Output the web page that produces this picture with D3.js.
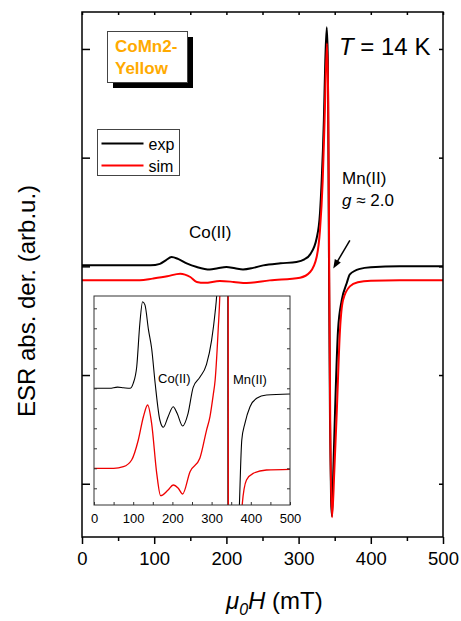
<!DOCTYPE html>
<html>
<head>
<meta charset="utf-8">
<script src="https://cdn.jsdelivr.net/npm/d3@7"></script>
<style>
body { margin: 0; background: #fff; }
svg { display: block; font-family: "Liberation Sans", Arial, sans-serif; }
</style>
</head>
<body>
<div class="chart"></div>
<script>
// main panel, field in mT, signal in arb. units (black = exp, red = sim)
const fieldExp = [0, 60, 95, 108, 116, 124, 133, 145, 159, 177, 188, 200, 212, 223, 237, 251, 275, 297, 308, 316, 325, 329.6, 332, 335, 337, 339, 340.5, 342, 343.5, 345, 346.3, 348, 350.4, 354.6, 359.7, 366.6, 371, 385, 400, 440, 500];
const expMain = [0.009, 0.009, 0.009, 0.023, 0.055, 0.086, 0.069, 0.028, -0.006, -0.030, -0.018, -0.006, -0.018, -0.028, -0.014, 0.009, 0.028, 0.040, 0.064, 0.110, 0.258, 0.488, 0.791, 1.343, 1.895, 2.199, 1.895, 0.147, -1.417, -2.153, -2.300, -1.900, -1.352, -0.589, -0.313, -0.156, -0.074, -0.023, -0.009, 0, 0];

const fieldSim = [0, 80, 98, 118, 136, 150, 159, 170, 191, 210, 228, 260, 302, 316, 325, 329.6, 333.4, 336, 339.3, 341, 342.5, 344, 346.3, 349.5, 352.8, 357.3, 361.5, 371, 382, 400, 440, 500];
const simMain = [-0.129, -0.129, -0.113, -0.092, -0.067, -0.098, -0.144, -0.152, -0.135, -0.143, -0.154, -0.129, -0.104, -0.052, 0.086, 0.331, 0.791, 1.343, 2.052, 1.527, -0.129, -1.600, -2.309, -1.877, -1.352, -0.589, -0.313, -0.184, -0.147, -0.133, -0.129, -0.129];

// inset (zoomed Co(II) region), own arbitrary units
const insetFieldExp = [0, 40, 60, 75, 92, 100, 109, 117, 124, 130, 139, 147, 156, 168, 177, 189, 202, 212, 226, 240, 253, 270, 287, 300, 309, 313, 320, 338, 341.5, 345, 350, 355, 360, 366, 371, 377, 385, 398, 415, 440, 500];
const insetExp = [0, 0, 0.06, 0.03, 0, 0.25, 1.08, 3.25, 4.33, 4.17, 2.92, 2.0, 0.25, -1.585, -1.95, -1.42, -0.92, -1.25, -1.885, -1.25, 0.05, 0.55, 1.2, 2.4, 3.8, 4.665, 8.4, 110, 0, -120, -70, -30, -16, -9, -5.8, -2.585, -1.75, -0.92, -0.5, -0.335, -0.285];

const insetFieldSim = [0, 50, 75, 96, 113, 126, 137, 147, 160, 170, 189, 202, 215, 226, 245, 270, 287, 296, 304, 309, 317, 321, 326, 339, 342.5, 346, 352, 360, 370, 378, 389, 406, 440, 500];
const insetSim = [-4, -4, -3.92, -3.585, -2.585, -1.42, -0.835, -1.75, -4.25, -5.37, -5.085, -4.835, -5.0, -5.285, -4.17, -3.5, -2.1, -1.4, -0.35, 0.4, 3.0, 4.665, 9.4, 110, 0, -120, -60, -20, -8.5, -5.835, -4.585, -4.25, -4.085, -4.05];

const xTicks = [0, 100, 200, 300, 400, 500];
const xMinor = [50, 150, 250, 350, 450];
const yTicks = [-2, -1, 0, 1, 2];
const insetYTicks = [-5, -4, -3, -2, -1, 0, 1, 2, 3, 4];

const W = 461, H = 621;
const margin = {top: 12, right: 18, bottom: 84, left: 82};
const width = W - margin.left - margin.right, height = H - margin.top - margin.bottom;

const svg = d3.select('.chart').append('svg')
    .attr('width', W)
    .attr('height', H);

const g = svg.append('g')
    .attr('transform', `translate(${margin.left},${margin.top})`);

const x = d3.scaleLinear().domain([0, 500]).range([0, width]);
const y = d3.scaleLinear().domain([-2.49, 2.34]).range([height, 0]);

function styleAxis(sel, size) {
    sel.select('.domain').remove();
    sel.selectAll('line').attr('stroke', '#000').attr('stroke-width', 1.5);
    sel.selectAll('text').attr('font-size', size).attr('fill', '#000');
    sel.attr('font-family', null);
}

g.append('g')
    .attr('transform', `translate(0,${height})`)
    .call(d3.axisBottom(x).tickValues(xTicks).tickSize(7).tickPadding(8.2))
    .call(s => styleAxis(s, 18.5));
g.append('g')
    .attr('transform', `translate(0,${height})`)
    .call(d3.axisBottom(x).tickValues(xMinor).tickSize(4).tickFormat(''))
    .call(s => styleAxis(s, 18));
g.append('g')
    .call(d3.axisTop(x).tickValues(xTicks.concat(xMinor)).tickSize(-3).tickFormat(''))
    .call(s => styleAxis(s, 10));
g.append('g')
    .call(d3.axisLeft(y).tickValues(yTicks).tickSize(-8).tickFormat(''))
    .call(s => styleAxis(s, 10));
g.append('g')
    .attr('transform', `translate(${width},0)`)
    .call(d3.axisRight(y).tickValues(yTicks).tickSize(-4).tickFormat(''))
    .call(s => styleAxis(s, 10));

g.append('clipPath').attr('id', 'clipMain')
    .append('rect').attr('width', width).attr('height', height);

const line = d3.line()
    .x(d => x(d[0]))
    .y(d => y(d[1]))
    .curve(d3.curveMonotoneX);

const curves = g.append('g').attr('clip-path', 'url(#clipMain)');
curves.append('path')
    .datum(d3.zip(fieldExp, expMain))
    .attr('d', line)
    .attr('fill', 'none').attr('stroke', '#000').attr('stroke-width', 2);
curves.append('path')
    .datum(d3.zip(fieldSim, simMain))
    .attr('d', line)
    .attr('fill', 'none').attr('stroke', '#ff0000').attr('stroke-width', 2);

g.append('rect')
    .attr('width', width).attr('height', height)
    .attr('fill', 'none').attr('stroke', '#000').attr('stroke-width', 1.5);

// inset
const iw = 196, ih = 209;
const inset = svg.append('g').attr('transform', 'translate(94,296)');
const xi = d3.scaleLinear().domain([0, 500]).range([0, iw]);
const yi = d3.scaleLinear().domain([-5.835, 4.615]).range([ih, 0]);

inset.append('rect').attr('width', iw).attr('height', ih).attr('fill', '#fff');
inset.append('clipPath').attr('id', 'clipInset')
    .append('rect').attr('width', iw).attr('height', ih);

const iline = d3.line()
    .x(d => xi(d[0]))
    .y(d => yi(d[1]))
    .curve(d3.curveMonotoneX);

const icurves = inset.append('g').attr('clip-path', 'url(#clipInset)');
icurves.append('path')
    .datum(d3.zip(insetFieldExp, insetExp))
    .attr('d', iline)
    .attr('fill', 'none').attr('stroke', '#000').attr('stroke-width', 1.1);
icurves.append('path')
    .datum(d3.zip(insetFieldSim, insetSim))
    .attr('d', iline)
    .attr('fill', 'none').attr('stroke', '#ee0000').attr('stroke-width', 1.3);

function styleInset(sel) {
    sel.select('.domain').remove();
    sel.selectAll('line').attr('stroke', '#333').attr('stroke-width', 1);
    sel.selectAll('text').attr('font-size', 13).attr('fill', '#000');
    sel.attr('font-family', null);
}

inset.append('g')
    .attr('transform', `translate(0,${ih})`)
    .call(d3.axisBottom(xi).tickValues(d3.range(0, 501, 50)).tickSizeInner(-3).tickSizeOuter(0).tickPadding(8.8)
        .tickFormat(d => d % 100 === 0 ? d : ''))
    .call(styleInset);
inset.append('g')
    .call(d3.axisLeft(yi).tickValues(insetYTicks).tickSize(-3).tickFormat(''))
    .call(styleInset);
inset.append('g')
    .attr('transform', `translate(${iw},0)`)
    .call(d3.axisRight(yi).tickValues(insetYTicks).tickSize(-3).tickFormat(''))
    .call(styleInset);
inset.append('rect')
    .attr('width', iw).attr('height', ih)
    .attr('fill', 'none').attr('stroke', '#333').attr('stroke-width', 1);

inset.append('text').attr('x', 64).attr('y', 87).attr('font-size', 13).text('Co(II)');
inset.append('text').attr('x', 139).attr('y', 88).attr('font-size', 13).text('Mn(II)');

// axis titles
svg.append('text')
    .attr('transform', 'translate(35,301) rotate(-90)')
    .attr('text-anchor', 'middle')
    .attr('font-size', 24)
    .text('ESR abs. der. (arb.u.)');

const xt = svg.append('text')
    .attr('x', 226).attr('y', 609)
    .attr('font-size', 24);
xt.append('tspan').attr('font-style', 'italic').text('μ');
xt.append('tspan').attr('font-style', 'italic').attr('font-size', 16).attr('dy', 6).text('0');
xt.append('tspan').attr('font-style', 'italic').attr('dy', -6).text('H');
xt.append('tspan').text(' (mT)');

// temperature
const tt = svg.append('text').attr('x', 339).attr('y', 55).attr('font-size', 24);
tt.append('tspan').attr('font-style', 'italic').text('T');
tt.append('tspan').text(' = 14 K');

// sample label with shadow
svg.append('rect').attr('x', 113).attr('y', 37).attr('width', 80).attr('height', 51).attr('fill', '#000');
svg.append('rect').attr('x', 107.5).attr('y', 31.5).attr('width', 80).attr('height', 51)
    .attr('fill', '#fff').attr('stroke', '#444').attr('stroke-width', 1);
svg.append('text').attr('x', 115).attr('y', 52).attr('font-size', 17).attr('font-weight', 'bold')
    .attr('fill', '#ffaa00').text('CoMn2-');
svg.append('text').attr('x', 115).attr('y', 74).attr('font-size', 17).attr('font-weight', 'bold')
    .attr('fill', '#ffaa00').text('Yellow');

// legend
const legend = svg.append('g').attr('transform', 'translate(97.5,129.5)');
legend.append('rect').attr('width', 82).attr('height', 46)
    .attr('fill', '#fff').attr('stroke', '#444').attr('stroke-width', 1);
[['exp', '#000', 14], ['sim', '#ff0000', 36]].forEach(([label, col, ly]) => {
    legend.append('line').attr('x1', 4).attr('x2', 46).attr('y1', ly).attr('y2', ly)
        .attr('stroke', col).attr('stroke-width', 2);
    legend.append('text').attr('x', 51).attr('y', ly + 6).attr('font-size', 16).text(label);
});

// annotations
svg.append('text').attr('x', 189).attr('y', 238).attr('font-size', 17).text('Co(II)');
svg.append('text').attr('x', 342).attr('y', 184).attr('font-size', 17).text('Mn(II)');
const gt = svg.append('text').attr('x', 342).attr('y', 206).attr('font-size', 17);
gt.append('tspan').attr('font-style', 'italic').text('g');
gt.append('tspan').text(' ≈ 2.0');

// arrow towards the Mn(II) line
const ax0 = x(371) + margin.left, ay0 = y(0.24) + margin.top;
const ax1 = x(348) + margin.left, ay1 = y(-0.02) + margin.top;
const ang = Math.atan2(ay1 - ay0, ax1 - ax0);
svg.append('line')
    .attr('x1', ax0).attr('y1', ay0)
    .attr('x2', ax1 - 6 * Math.cos(ang)).attr('y2', ay1 - 6 * Math.sin(ang))
    .attr('stroke', '#000').attr('stroke-width', 1.5);
const hl = 9, hw = 3.5;
const bx = ax1 - hl * Math.cos(ang), by = ay1 - hl * Math.sin(ang);
svg.append('polygon')
    .attr('points', [
        [ax1, ay1],
        [bx + hw * Math.sin(ang), by - hw * Math.cos(ang)],
        [bx - hw * Math.sin(ang), by + hw * Math.cos(ang)]
    ].map(p => p.join(',')).join(' '))
    .attr('fill', '#000');
</script>
</body>
</html>
